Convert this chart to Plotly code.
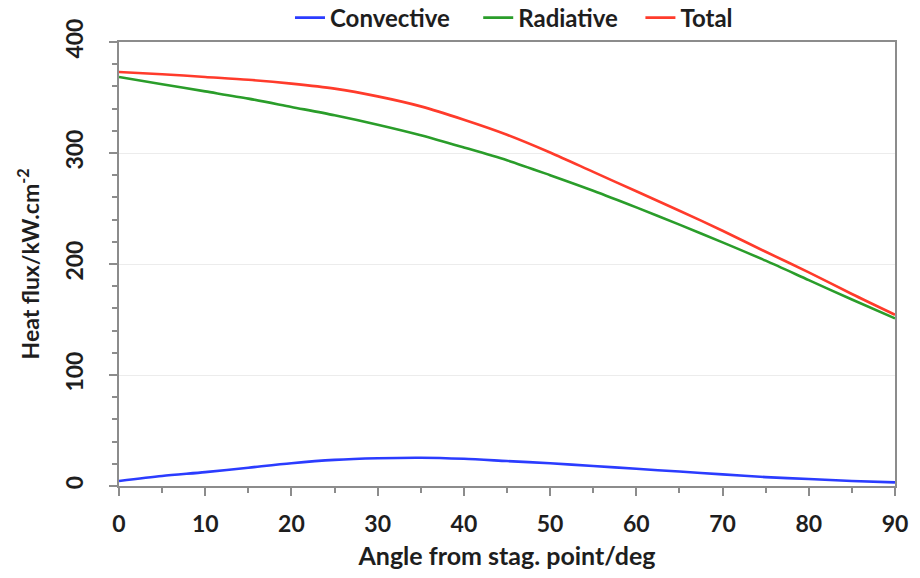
import plotly.graph_objects as go

angle = [0, 5, 10, 15, 20, 25, 30, 35, 40, 45, 50, 55, 60, 65, 70, 75, 80, 85, 90]
convective = [4.5, 9, 12.5, 16.5, 20.5, 23.5, 25, 25.5, 24.5, 22.5, 20.5, 18, 15.5, 13, 10.5, 8, 6.3, 4.5, 3.3]
radiative = [368.5, 362, 355.5, 349, 341.5, 334, 325.5, 316, 305, 293.5, 280, 266, 251, 235.5, 219.5, 203, 185.5, 168, 151]
total = [373, 371, 368.5, 366, 362.5, 358, 351, 342, 330, 316.5, 300.5, 283, 265.5, 248, 230, 211, 192.5, 173, 154.3]

series_names = ["Convective", "Radiative", "Total"]
x_ticks = [0, 10, 20, 30, 40, 50, 60, 70, 80, 90]
y_ticks = [0, 100, 200, 300, 400]

FONT = "Lato"
TXT = "#1e1e1e"
AX = "#8c8c8c"

fig = go.Figure()
for name, vals, col, pad in [(series_names[0], convective, "#2b3cff", "\u00a0" * 4),
                             (series_names[1], radiative, "#2a9d2a", "\u00a0" * 3),
                             (series_names[2], total, "#ff3b2b", "")]:
    fig.add_trace(go.Scatter(x=angle, y=vals, mode="lines", name=name + pad,
                             line=dict(color=col, width=2.6, shape="spline", smoothing=0.8)))

fig.update_layout(
    width=920, height=578,
    margin=dict(l=119, r=25, t=42, b=92, autoexpand=False),
    paper_bgcolor="white", plot_bgcolor="white",
    font=dict(family=FONT, size=23, color=TXT),
    showlegend=True,
    legend=dict(orientation="h", x=0.509, xanchor="center",
                yref="container", y=1 - 18 / 578, yanchor="middle",
                font=dict(family=FONT, size=24, color=TXT, weight="bold"),
                itemwidth=30, tracegroupgap=0, bgcolor="rgba(0,0,0,0)"),
)
fig.update_xaxes(
    range=[0, 90], tickvals=x_ticks, ticktext=[str(v) for v in x_ticks],
    showline=True, linecolor=AX, linewidth=2, mirror=True,
    ticks="outside", ticklen=8, tickwidth=1.5, tickcolor=AX,
    minor=dict(dtick=5, ticks="outside", ticklen=5, tickwidth=1.5, tickcolor=AX, showgrid=False),
    showgrid=False, zeroline=False, ticklabelstandoff=8,
    tickfont=dict(family=FONT, size=23, color=TXT, weight="bold"),
    title=dict(text="Angle from stag. point/deg", standoff=12,
               font=dict(family=FONT, size=25, color=TXT, weight="bold")),
)
fig.update_yaxes(
    range=[0, 400], tickvals=y_ticks, ticktext=[str(v) for v in y_ticks],
    showline=True, linecolor=AX, linewidth=2, mirror=True,
    ticks="outside", ticklen=8, tickwidth=1.5, tickcolor=AX,
    minor=dict(dtick=20, ticks="outside", ticklen=5, tickwidth=1.5, tickcolor=AX, showgrid=False),
    showgrid=True, gridcolor="#ececec", gridwidth=1, zeroline=False,
    tickangle=-90, ticklabelstandoff=17,
    tickfont=dict(family=FONT, size=23, color=TXT, weight="bold"),
    title=dict(text="Heat flux/kW.cm<sup>-2</sup>", standoff=14,
               font=dict(family=FONT, size=23, color=TXT, weight="bold")),
)

fig.write_html("out.html")
